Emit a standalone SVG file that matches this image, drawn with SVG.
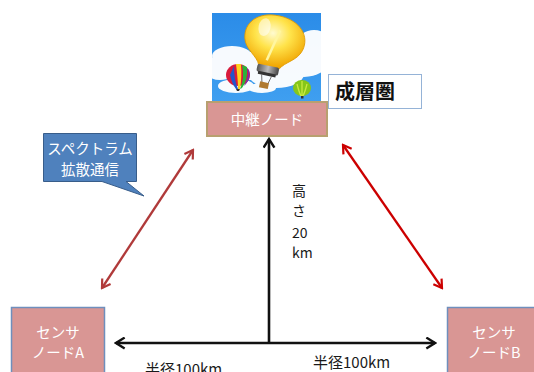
<svg xmlns="http://www.w3.org/2000/svg" width="534" height="372" viewBox="0 0 534 372">
  <style>
    .jp { font-family: "Noto Sans CJK JP", "Liberation Sans", sans-serif; }
    .node { fill: #d99694; }
    .lbl { fill: #ffffff; font-size: 14.5px; text-anchor: middle; }
    .dim { fill: #1a1a1a; font-size: 15px; }
  </style>
  <defs>
    <marker id="headBlack" viewBox="0 0 12 12" refX="10" refY="6" markerWidth="13" markerHeight="13" markerUnits="userSpaceOnUse" orient="auto-start-reverse">
      <path d="M2,1 L10,6 L2,11" fill="none" stroke="#111111" stroke-width="2.2"/>
    </marker>
    <marker id="headBrick" viewBox="0 0 12 12" refX="10" refY="6" markerWidth="12" markerHeight="12" markerUnits="userSpaceOnUse" orient="auto-start-reverse">
      <path d="M2,1 L10,6 L2,11" fill="none" stroke="#b03a3a" stroke-width="2.2"/>
    </marker>
    <marker id="headRed" viewBox="0 0 12 12" refX="10" refY="6" markerWidth="12" markerHeight="12" markerUnits="userSpaceOnUse" orient="auto-start-reverse">
      <path d="M2,1 L10,6 L2,11" fill="none" stroke="#cc0000" stroke-width="2.2"/>
    </marker>
    <linearGradient id="sky" x1="0" y1="0" x2="0" y2="1">
      <stop offset="0" stop-color="#2b8ce8"/>
      <stop offset="1" stop-color="#3f9ff0"/>
    </linearGradient>
    <radialGradient id="glass" cx="0.45" cy="0.35" r="0.65">
      <stop offset="0" stop-color="#fffbd0"/>
      <stop offset="0.45" stop-color="#ffe34a"/>
      <stop offset="1" stop-color="#f0a400"/>
    </radialGradient>
    <linearGradient id="base" x1="0" y1="0" x2="1" y2="0">
      <stop offset="0" stop-color="#555"/>
      <stop offset="0.5" stop-color="#bbb"/>
      <stop offset="1" stop-color="#444"/>
    </linearGradient>
    <clipPath id="skyClip"><rect x="212" y="13" width="109" height="89"/></clipPath>
  </defs>

  <!-- picture of the stratosphere: sky, clouds, bulb and balloons -->
  <g id="sky-picture" clip-path="url(#skyClip)">
    <rect x="212" y="13" width="109" height="89" fill="url(#sky)"/>
    <g fill="#ffffff" opacity="0.96">
      <ellipse cx="232" cy="56" rx="20" ry="10"/>
      <ellipse cx="220" cy="68" rx="16" ry="12"/>
      <ellipse cx="250" cy="66" rx="22" ry="14"/>
      <ellipse cx="276" cy="74" rx="28" ry="14"/>
      <ellipse cx="304" cy="62" rx="24" ry="15"/>
      <ellipse cx="314" cy="42" rx="16" ry="12"/>
      <ellipse cx="298" cy="48" rx="14" ry="10"/>
      <ellipse cx="236" cy="86" rx="18" ry="7"/>
      <ellipse cx="262" cy="88" rx="14" ry="5"/>
    </g>
    <!-- light bulb -->
    <g transform="rotate(12 272 45)">
      <path d="M273,15 C295,15 307,29 303,44 C300,55 288,59 284,67 L263,67 C260,59 247,55 244,44 C240,29 251,15 273,15 Z" fill="url(#glass)" stroke="#e09a00" stroke-width="0.8"/>
      <path d="M277,29 L270,61" stroke="#fff6a0" stroke-width="2.5" fill="none"/>
      <ellipse cx="261" cy="29" rx="6" ry="9" fill="#ffffff" opacity="0.55"/>
      <rect x="262" y="66" width="22" height="8" rx="2" fill="url(#base)"/>
      <rect x="264" y="73" width="18" height="3" fill="#333"/>
      <path d="M268,76 L270,84 M278,76 L276,84" stroke="#444" stroke-width="0.7"/>
      <rect x="268" y="83" width="9" height="6" fill="#b07a30"/>
    </g>
    <!-- red balloon -->
    <g>
      <ellipse cx="238" cy="75" rx="12" ry="11" fill="#d81b3c"/>
      <path d="M230,75 Q232,84 236,89 L238,89 Q234,80 234,66 Z" fill="#2255cc"/>
      <path d="M236,64 Q238,80 238,89 L240,89 Q242,78 241,64 Z" fill="#ffd21f"/>
      <path d="M242,65 Q245,78 240,89 L242,88 Q248,80 247,67 Z" fill="#2bb33a"/>
      <path d="M247,68 Q250,75 244,86 L246,84 Q251,78 249,70 Z" fill="#7a2bb3"/>
      <path d="M236,89 L240,89 L239,91 L237,91 Z" fill="#333"/>
    </g>
    <!-- green balloon -->
    <g>
      <ellipse cx="302" cy="88" rx="9" ry="8" fill="#86c61a"/>
      <path d="M297,84 Q299,92 301,96 M302,81 L302,96 M307,84 Q305,92 303,96" stroke="#c8ea40" stroke-width="1.3" fill="none"/>
      <rect x="301" y="96" width="2.5" height="2.5" fill="#333"/>
    </g>
  </g>

  <!-- connectors -->
  <g id="connectors" fill="none">
    <line x1="269" y1="343" x2="269" y2="139" stroke="#111111" stroke-width="2.6" marker-end="url(#headBlack)"/>
    <line x1="116" y1="343" x2="435" y2="343" stroke="#111111" stroke-width="2.6" marker-start="url(#headBlack)" marker-end="url(#headBlack)"/>
    <line x1="102" y1="288" x2="193" y2="150" stroke="#b03a3a" stroke-width="2.3" marker-start="url(#headBrick)" marker-end="url(#headBrick)"/>
    <line x1="343" y1="145" x2="442" y2="288" stroke="#cc0000" stroke-width="2.3" marker-start="url(#headRed)" marker-end="url(#headRed)"/>
  </g>

  <!-- relay node -->
  <g id="relay-node">
    <rect x="207" y="102" width="120" height="34" class="node" stroke="#b8a070" stroke-width="2"/>
    <text x="267" y="125" class="jp lbl" font-size="15">中継ノード</text>
  </g>

  <!-- stratosphere label -->
  <g id="stratosphere-label">
    <rect x="328.5" y="74.5" width="93" height="34" fill="#ffffff" stroke="#95b3d7" stroke-width="1"/>
    <text x="335" y="99" class="jp" font-size="20" font-weight="bold" fill="#111111">成層圏</text>
  </g>

  <!-- spread spectrum callout -->
  <g id="spread-spectrum-callout">
    <path d="M43.5,133.5 H136.5 V181.5 H126 L144,196 L102,181.5 H43.5 Z" fill="#4f81bd" stroke="#385d8a" stroke-width="1"/>
    <text x="90" y="154" class="jp lbl" font-size="16">スペクトラム</text>
    <text x="90" y="175" class="jp lbl" font-size="16">拡散通信</text>
  </g>

  <!-- sensor node A -->
  <g id="sensor-node-a">
    <rect x="11.5" y="307.5" width="93" height="70" class="node" stroke="#6f8fbd" stroke-width="1.5"/>
    <text x="58" y="338" class="jp lbl">センサ</text>
    <text x="58" y="358" class="jp lbl">ノードA</text>
  </g>

  <!-- sensor node B -->
  <g id="sensor-node-b">
    <rect x="447.5" y="307.5" width="93" height="70" class="node" stroke="#6f8fbd" stroke-width="1.5"/>
    <text x="494" y="338" class="jp lbl">センサ</text>
    <text x="494" y="358" class="jp lbl">ノードB</text>
  </g>

  <!-- height label -->
  <g id="height-label" class="jp" font-size="14" fill="#1a1a1a">
    <text x="292" y="196">高</text>
    <text x="292" y="216">さ</text>
    <text x="292" y="238">20</text>
    <text x="292" y="258">km</text>
  </g>

  <!-- radius labels -->
  <g id="radius-labels" class="jp">
    <text x="145" y="375" class="dim">半径100km</text>
    <text x="313" y="368" class="dim">半径100km</text>
  </g>
</svg>
